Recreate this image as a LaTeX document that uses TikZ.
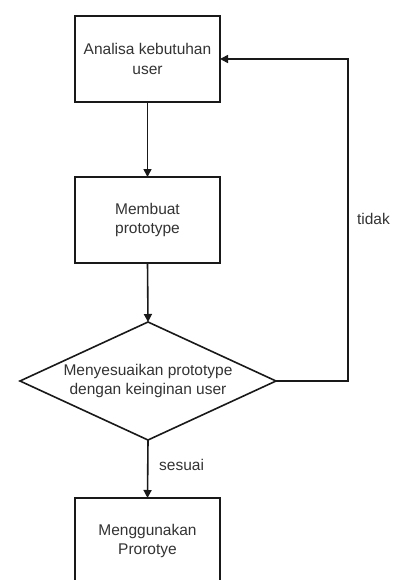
\documentclass[tikz,border=0pt]{standalone}
\usepackage{fontspec}
\setmainfont{Liberation Sans}
\usetikzlibrary{arrows.meta,shapes.geometric}
\begin{document}
\begin{tikzpicture}[x=1pt,y=-1pt,
  every node/.style={font=\fontsize{15.5}{19.5}\selectfont, text=black!80},
  procbox/.style={draw=black!90, line width=1.6pt, rectangle, minimum width=145pt, minimum height=86pt, inner sep=0pt, outer sep=0pt, align=center},
  decision/.style={draw=black!90, line width=1.6pt, diamond, aspect=2.17, minimum width=256pt, minimum height=118pt, inner sep=0pt, outer sep=0pt},
  flow/.style={draw=black!90, line width=1.6pt, -{Triangle[length=8pt,width=8pt]}},
  lbl/.style={align=center, inner sep=0pt}
]
\useasboundingbox (0,0) rectangle (393,580);
\clip (0,0) rectangle (393,580);
\fill[white] (0,0) rectangle (393,580);

\node[procbox] (b1) at (147.5,59) {Analisa kebutuhan\\user};
\node[procbox] (b2) at (147.5,220) {Membuat\\prototype};
\node[decision] (d) at (148,381) {};
\node[lbl] (dt) at (d.center) {Menyesuaikan prototype\\dengan keinginan user};
\node[procbox] (b3) at (147.5,541) {Menggunakan\\Prorotye};

\coordinate (r) at (348,220);

\draw[flow] (b1.south) -- (b2.north);
\draw[flow] (b2.south) -- (d.north);
\draw[flow] (d.south) -- (b3.north);
\draw[flow] (d.east) -| (r) |- (b1.east);

\node[lbl, anchor=west] (s) at (159,465) {sesuai};
\node[lbl, anchor=east] (t) at (390,219) {tidak};
\end{tikzpicture}
\end{document}
